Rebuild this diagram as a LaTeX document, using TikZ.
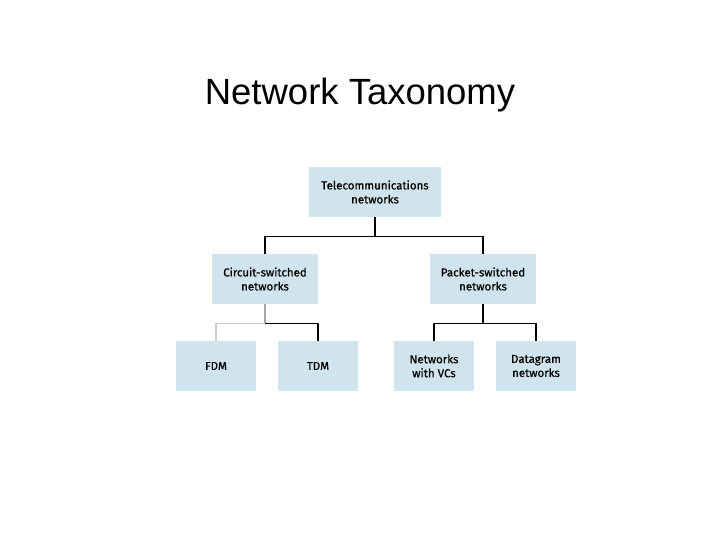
\documentclass[tikz,border=0pt]{standalone}
\usepackage{fontspec}
\setmainfont{Liberation Sans}
\newfontfamily\boxfont{Fira Sans}[FakeBold=0.6]
\definecolor{boxblue}{HTML}{D0E4EE}
\tikzset{
  taxbox/.style={fill=boxblue, minimum width=80pt, minimum height=50pt,
    inner sep=0pt, align=center, font=\boxfont\fontsize{11.5}{14}\selectfont},
  tree/.style={line width=1.2pt}
}
\begin{document}
\begin{tikzpicture}[x=1pt,y=-1pt]
  \useasboundingbox (0,0) rectangle (720,540);
  % title
  \node (title) at (360,95) {\fontsize{36.5}{40}\selectfont Network Taxonomy};

  % top level
  \node[taxbox, minimum width=132pt] (tele) at (375,192) {Telecommunications\\networks};

  % second level
  \node[taxbox, minimum width=106pt] (circ) at (265,279) {Circuit-switched\\networks};
  \node[taxbox, minimum width=106pt] (pack) at (483,279) {Packet-switched\\networks};

  % third level
  \node[taxbox] (fdm) at (216,366) {FDM};
  \node[taxbox] (tdm) at (318,366) {TDM};
  \node[taxbox] (vcs) at (434,366) {Networks\\with VCs};
  \node[taxbox] (dgram) at (536,366) {Datagram\\networks};

  % connectors
  \draw[tree] (tele.south) -- ++(0,19) coordinate (bus1);
  \draw[tree] (circ.north) |- (bus1) -| (pack.north);

  \draw[tree, gray!70] (circ.south) -- ++(0,19) coordinate (bus2);
  \draw[tree, gray!40] (fdm.north) |- (bus2);
  \draw[tree] (bus2) -| (tdm.north);

  \draw[tree] (pack.south) -- ++(0,19) coordinate (bus3);
  \draw[tree] (vcs.north) |- (bus3) -| (dgram.north);
\end{tikzpicture}
\end{document}
